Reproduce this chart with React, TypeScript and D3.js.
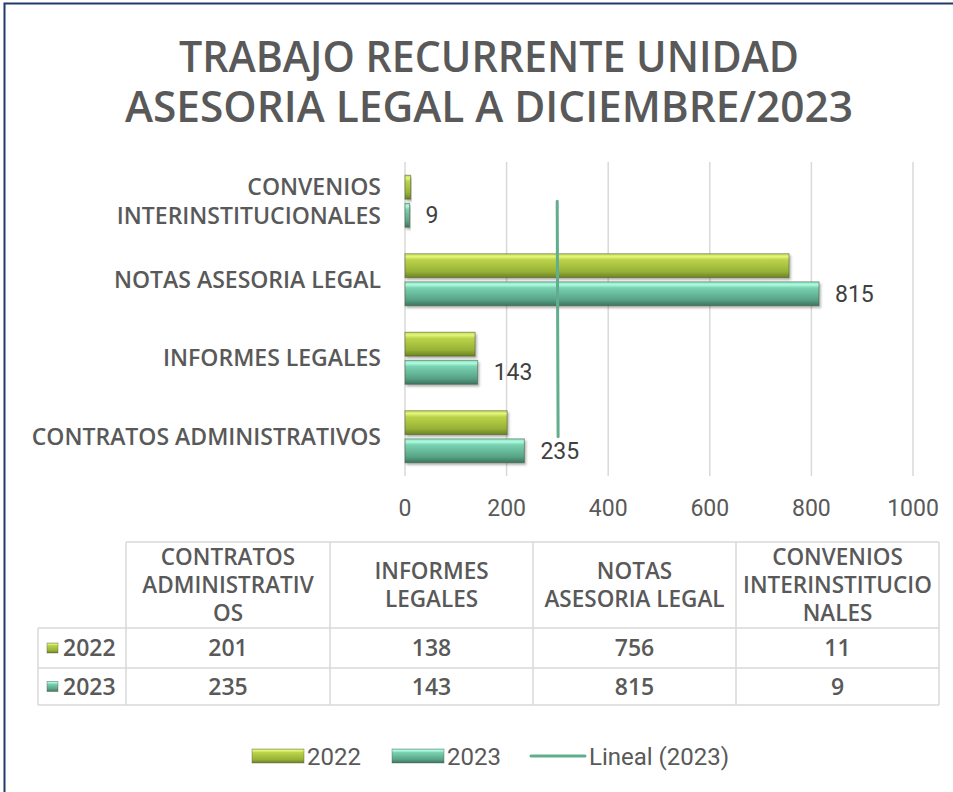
import React from "react";
import * as d3 from "d3";

const categories = ["CONTRATOS ADMINISTRATIVOS", "INFORMES LEGALES", "NOTAS ASESORIA LEGAL", "CONVENIOS INTERINSTITUCIONALES"];
const axisLabelLines = [["CONTRATOS ADMINISTRATIVOS"], ["INFORMES LEGALES"], ["NOTAS ASESORIA LEGAL"], ["CONVENIOS", "INTERINSTITUCIONALES"]];
const tableHeaderLines = [["CONTRATOS", "ADMINISTRATIV", "OS"], ["INFORMES", "LEGALES"], ["NOTAS", "ASESORIA LEGAL"], ["CONVENIOS", "INTERINSTITUCIO", "NALES"]];
const seriesNames = ["2022", "2023"];
const values2022 = [201, 138, 756, 11];
const values2023 = [235, 143, 815, 9];
const xTicks = [0, 200, 400, 600, 800, 1000];
const titleLines = ["TRABAJO RECURRENTE UNIDAD", "ASESORIA LEGAL A DICIEMBRE/2023"];
const trendLabel = "Lineal (2023)";

const W = 953, H = 792;
const TXT = "#595959";
const FONT = "'Open Sans', 'DejaVu Sans', sans-serif";
const NUMFONT = "Roboto, 'Open Sans', sans-serif";

export default function App() {
  const x = d3.scaleLinear().domain([0, 1000]).range([405, 913]);
  const y = d3.scaleBand<string>().domain([...categories].reverse()).range([162, 476]).padding(0);
  const inner = d3.scaleBand<string>().domain(seriesNames).range([0, 52]).paddingInner(0.15);
  const series = [values2022, values2023];
  const grads = ["g2022", "g2023"];

  // linear trendline for 2023 over category index 1..n
  const idx = categories.map((_, i) => i + 1);
  const mx = d3.mean(idx)!, my = d3.mean(values2023)!;
  const slope = d3.sum(idx.map((v, i) => (v - mx) * (values2023[i] - my))) / d3.sum(idx.map(v => (v - mx) ** 2));
  const icpt = my - slope * mx;
  const trendPts: [number, number][] = idx.map((v, i) => [x(icpt + slope * v), y(categories[i])! + y.bandwidth() / 2]);
  const line = d3.line();

  const bandTop = (c: string) => y(c)! + y.bandwidth() / 2 - 26;

  const colX = [126, 330, 533, 736, 939];
  const rowY = [542, 628, 668, 705];
  const titleWidths = [620, 728];

  return (
    <svg width={W} height={H} style={{ position: "absolute", left: 0, top: 0, background: "#fff" }} fontFamily={FONT}>
      <defs>
        <linearGradient id="g2022" x1="0" y1="0" x2="0" y2="1">
          <stop offset="0" stopColor="#c4dc4e" />
          <stop offset="0.12" stopColor="#e4f57c" />
          <stop offset="0.25" stopColor="#bcd44a" />
          <stop offset="0.75" stopColor="#97b136" />
          <stop offset="1" stopColor="#6b8122" />
        </linearGradient>
        <linearGradient id="g2023" x1="0" y1="0" x2="0" y2="1">
          <stop offset="0" stopColor="#86e0c0" />
          <stop offset="0.12" stopColor="#aefbe0" />
          <stop offset="0.25" stopColor="#7ad2b2" />
          <stop offset="0.75" stopColor="#58a386" />
          <stop offset="1" stopColor="#3b7560" />
        </linearGradient>
        <filter id="sh" x="-5%" y="-20%" width="115%" height="160%">
          <feDropShadow dx="1.5" dy="2" stdDeviation="1.2" floodColor="#000" floodOpacity="0.3" />
        </filter>
      </defs>

      {/* frame */}
      <path d={`M4.5,${H} V3.5 H${W}`} fill="none" stroke="#1f3a6b" strokeWidth={2} />

      {/* title */}
      <text textAnchor="middle" fontSize={44} fontWeight={600} fill={TXT}>
        {titleLines.map((t, i) => (
          <tspan key={t} x={489} y={72 + i * 50} textLength={titleWidths[i]} lengthAdjust="spacingAndGlyphs">{t}</tspan>
        ))}
      </text>

      {/* gridlines */}
      {xTicks.map(t => (
        <line key={t} x1={x(t)} x2={x(t)} y1={162} y2={476} stroke="#d9d9d9" strokeWidth={1.5} />
      ))}

      {/* bars */}
      {categories.map((c, ci) => series.map((vals, si) => {
        const by = bandTop(c) + inner(seriesNames[si])!;
        const bh = inner.bandwidth();
        return (
          <g key={c + si} filter="url(#sh)">
            <rect x={x(0)} y={by} width={x(vals[ci]) - x(0)} height={bh} fill={`url(#${grads[si]})`} stroke="#4a5a3a" strokeOpacity={0.55} strokeWidth={1} />
          </g>
        );
      }))}

      {/* data labels 2023 */}
      {categories.map((c, ci) => {
        const by = bandTop(c) + inner("2023")! + inner.bandwidth() / 2;
        return (
          <text key={c} x={x(values2023[ci]) + 16} y={by} dy="0.35em" fontSize={23} fontFamily={NUMFONT} fill="#404040">{values2023[ci]}</text>
        );
      })}

      {/* trendline */}
      <path d={line(trendPts)!} fill="none" stroke="#62ad8e" strokeWidth={3} strokeLinecap="round" />

      {/* category labels */}
      {categories.map((c, ci) => {
        const lines = axisLabelLines[ci];
        const cy = y(c)! + y.bandwidth() / 2;
        return lines.map((l, li) => (
          <text key={l} x={381} y={cy + (li - (lines.length - 1) / 2) * 29} dy="0.35em" textAnchor="end" fontSize={23} fontWeight={600} fill={TXT}>{l}</text>
        ));
      })}

      {/* x tick labels */}
      {xTicks.map(t => (
        <text key={t} x={x(t)} y={516} textAnchor="middle" fontSize={23} fontFamily={NUMFONT} fill={TXT}>{t}</text>
      ))}

      {/* data table */}
      <g stroke="#d9d9d9" strokeWidth={1.5} fill="none">
        <line x1={colX[0]} x2={colX[4]} y1={rowY[0]} y2={rowY[0]} />
        {rowY.slice(1).map(r => <line key={r} x1={38} x2={colX[4]} y1={r} y2={r} />)}
        {colX.map(cx => <line key={cx} x1={cx} x2={cx} y1={rowY[0]} y2={rowY[3]} />)}
        <line x1={38} x2={38} y1={rowY[1]} y2={rowY[3]} />
      </g>
      {categories.map((c, ci) => {
        const cx = (colX[ci] + colX[ci + 1]) / 2;
        const lines = tableHeaderLines[ci];
        const cy = (rowY[0] + rowY[1]) / 2;
        return lines.map((l, li) => (
          <text key={c + li} x={cx} y={cy + (li - (lines.length - 1) / 2) * 28} dy="0.35em" textAnchor="middle" fontSize={22.5} fontWeight={600} fill={TXT}>{l}</text>
        ));
      })}
      {series.map((vals, si) => {
        const cy = (rowY[si + 1] + rowY[si + 2]) / 2;
        return (
          <g key={si}>
            <rect x={47} y={cy - 5} width={11} height={10} fill={`url(#${grads[si]})`} stroke="#555" strokeOpacity={0.5} strokeWidth={0.8} />
            <text x={63} y={cy} dy="0.35em" fontSize={23} fontWeight={600} fill={TXT}>{seriesNames[si]}</text>
            {vals.map((v, ci) => (
              <text key={ci} x={(colX[ci] + colX[ci + 1]) / 2} y={cy} dy="0.35em" textAnchor="middle" fontSize={23} fontWeight={600} fill={TXT}>{v}</text>
            ))}
          </g>
        );
      })}

      {/* legend */}
      {seriesNames.map((s, si) => (
        <g key={s}>
          <rect x={252 + si * 140} y={749} width={52} height={14} fill={`url(#${grads[si]})`} stroke="#555" strokeOpacity={0.5} strokeWidth={0.8} />
          <text x={307 + si * 140} y={757} dy="0.35em" fontSize={24} fontFamily={NUMFONT} fill={TXT}>{s}</text>
        </g>
      ))}
      <line x1={531} x2={585} y1={756} y2={756} stroke="#62ad8e" strokeWidth={3} strokeLinecap="round" />
      <text x={589} y={757} dy="0.35em" fontSize={24} fontFamily={NUMFONT} fill={TXT}>{trendLabel}</text>
    </svg>
  );
}
